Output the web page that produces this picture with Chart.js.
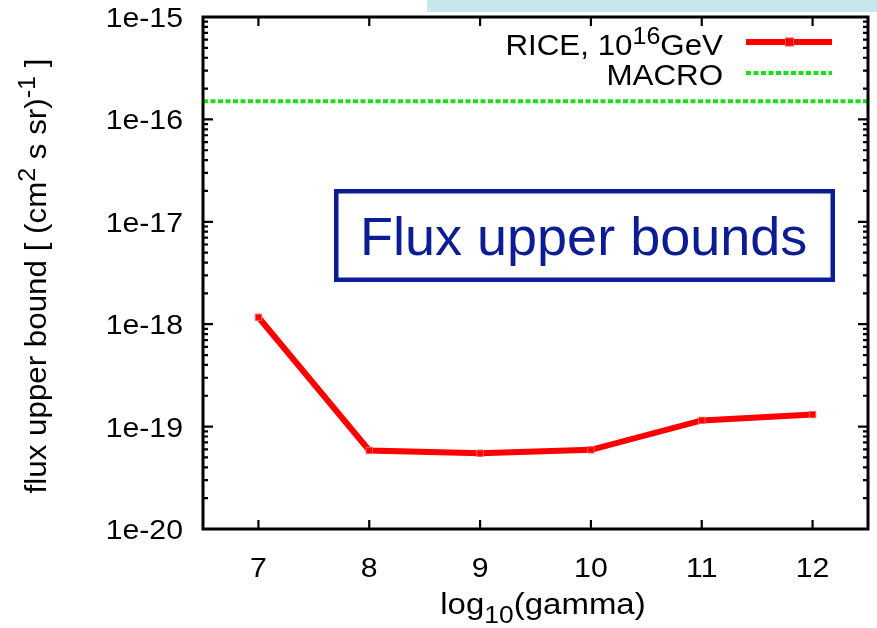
<!DOCTYPE html>
<html><head><meta charset="utf-8">
<script src="https://cdn.jsdelivr.net/npm/chart.js@4.4.1/dist/chart.umd.min.js"></script>
<style>html,body{margin:0;padding:0;background:#fff;overflow:hidden}#wrap{position:relative;width:877px;height:628px}</style>
</head><body><div id="wrap"><canvas id="c" width="877" height="628"></canvas></div>
<script>
// ---- data ----
const gammaLog = [7, 8, 9, 10, 11, 12];
const riceFlux = [1.17e-18, 5.85e-20, 5.5e-20, 5.93e-20, 1.15e-19, 1.31e-19];
const macroFlux = 1.5e-16;
const xRange = [6.5, 12.5];
const yRange = [1e-20, 1e-15];
const xTicks = [7, 8, 9, 10, 11, 12];
const xTickLabels = ['7', '8', '9', '10', '11', '12'];
const yTicks = [1e-20, 1e-19, 1e-18, 1e-17, 1e-16, 1e-15];
const yTickLabels = ['1e-20', '1e-19', '1e-18', '1e-17', '1e-16', '1e-15'];
const seriesNames = ['RICE, 10|16|GeV', 'MACRO'];

const FONT = '"Liberation Sans", Arial, Helvetica, sans-serif';
const SX = 1.08;
const RED = '#ff0000', GREEN = '#16e016', BLUE = '#0b1c94';

function richText(ctx, parts, x, y, size, align, sx) {
  const widths = parts.map(p => {
    ctx.font = (p.sup ? size * 0.8 : size) + 'px ' + FONT;
    return ctx.measureText(p.t).width * sx;
  });
  const total = widths.reduce((a, b) => a + b, 0);
  let cx = align === 'right' ? x - total : align === 'center' ? x - total / 2 : x;
  parts.forEach((p, i) => {
    ctx.save();
    ctx.font = (p.sup ? size * 0.8 : size) + 'px ' + FONT;
    ctx.translate(cx, y + (p.sup === 1 ? -size * 0.38 : p.sup === -1 ? size * 0.3 : 0));
    ctx.scale(sx, 1);
    ctx.textAlign = 'left';
    ctx.textBaseline = 'alphabetic';
    ctx.fillText(p.t, 0, 0);
    ctx.restore();
    cx += widths[i];
  });
}
function parseSup(s) {
  const a = s.split('|');
  return a.map((t, i) => ({ t, sup: i % 2 ? 1 : 0 })).filter(p => p.t.length);
}

const decor = {
  id: 'decor',
  beforeDraw(chart) {
    const ctx = chart.ctx;
    ctx.save();
    ctx.fillStyle = '#c8e7ec';
    ctx.fillRect(427, 0, 450, 12);
    ctx.restore();
  },
  afterDraw(chart) {
    const ctx = chart.ctx, a = chart.chartArea;
    const xs = chart.scales.x, ys = chart.scales.y;
    ctx.save();
    ctx.strokeStyle = '#000';
    ctx.lineWidth = 3;
    ctx.strokeRect(a.left, a.top, a.right - a.left, a.bottom - a.top);
    ctx.lineWidth = 2.2;
    ctx.beginPath();
    const yMin = Math.log10(yRange[0]), yMax = Math.log10(yRange[1]);
    for (let d = yMin; d <= yMax; d++) {
      for (let m = 1; m <= 9; m++) {
        const v = m * Math.pow(10, d);
        if (v > yRange[1] * 1.0001) break;
        const py = ys.getPixelForValue(v);
        const len = m === 1 ? 10 : 5;
        ctx.moveTo(a.left, py); ctx.lineTo(a.left + len, py);
        ctx.moveTo(a.right, py); ctx.lineTo(a.right - len, py);
      }
    }
    xTicks.forEach(v => {
      const px = xs.getPixelForValue(v);
      ctx.moveTo(px, a.bottom); ctx.lineTo(px, a.bottom - 9);
      ctx.moveTo(px, a.top); ctx.lineTo(px, a.top + 9);
    });
    ctx.stroke();
    ctx.fillStyle = '#000';
    yTicks.forEach((v, i) => {
      const py = ys.getPixelForValue(v);
      richText(ctx, [{ t: yTickLabels[i] }], 183, py + 10, 28, 'right', SX);
    });
    xTicks.forEach((v, i) => {
      const px = xs.getPixelForValue(v);
      richText(ctx, [{ t: xTickLabels[i] }], px, 577, 28, 'center', SX);
    });
    richText(ctx, [{ t: 'log' }, { t: '10', sup: -1 }, { t: '(gamma)' }], 543, 614, 30, 'center', 1.1);
    ctx.save();
    ctx.translate(46, 276);
    ctx.rotate(-Math.PI / 2);
    richText(ctx, [{ t: 'flux upper bound [ (cm' }, { t: '2', sup: 1 }, { t: ' s sr)' }, { t: '-1', sup: 1 }, { t: ' ]' }], 0, 0, 29, 'center', SX);
    ctx.restore();
    richText(ctx, parseSup(seriesNames[0]), 723, 55, 29, 'right', SX);
    richText(ctx, parseSup(seriesNames[1]), 723, 85, 29, 'right', SX);
    ctx.strokeStyle = RED; ctx.lineWidth = 6;
    ctx.beginPath(); ctx.moveTo(746, 42); ctx.lineTo(832, 42); ctx.stroke();
    ctx.fillStyle = '#ff5050'; ctx.fillRect(785, 37.5, 9, 9);
    ctx.fillStyle = RED; ctx.fillRect(786, 38.5, 7, 7);
    ctx.strokeStyle = GREEN; ctx.lineWidth = 4; ctx.setLineDash([5, 2.5]);
    ctx.beginPath(); ctx.moveTo(746, 73); ctx.lineTo(832, 73); ctx.stroke();
    ctx.setLineDash([]);
    ctx.strokeStyle = BLUE; ctx.lineWidth = 4.5;
    ctx.strokeRect(336.25, 191.25, 496.5, 88.5);
    ctx.fillStyle = BLUE;
    ctx.font = '54px ' + FONT;
    ctx.textAlign = 'left'; ctx.textBaseline = 'alphabetic';
    ctx.fillText('Flux upper bounds', 360, 255);
    ctx.restore();
  }
};

new Chart(document.getElementById('c'), {
  type: 'line',
  data: {
    datasets: [
      {
        label: 'RICE',
        data: gammaLog.map((g, i) => ({ x: g, y: riceFlux[i] })),
        borderColor: RED, backgroundColor: RED, borderWidth: 6,
        pointStyle: 'rect', pointRadius: 4.5, pointBorderWidth: 1,
        pointBorderColor: '#ff6060', pointBackgroundColor: RED,
        tension: 0, order: 1
      },
      {
        label: 'MACRO',
        data: xRange.map(x => ({ x, y: macroFlux })),
        borderColor: GREEN, borderWidth: 4, borderDash: [5, 2.5],
        pointRadius: 0, tension: 0, order: 2
      }
    ]
  },
  options: {
    responsive: false, animation: false, events: [],
    layout: { padding: { left: 203, right: 9, top: 17, bottom: 99 } },
    plugins: { legend: { display: false }, tooltip: { enabled: false } },
    scales: {
      x: { type: 'linear', min: xRange[0], max: xRange[1], display: false },
      y: { type: 'logarithmic', min: yRange[0], max: yRange[1], display: false }
    }
  },
  plugins: [decor]
});
</script>
</body></html>
